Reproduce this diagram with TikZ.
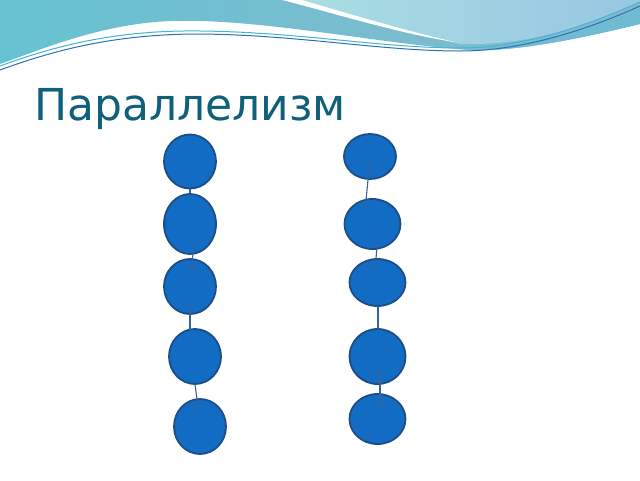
\documentclass[tikz,border=0pt]{standalone}
\usepackage{xcolor}
\usepackage{fontspec}
\setmainfont{DejaVu Sans}
\usetikzlibrary{shapes.geometric}

\definecolor{ballfill}{HTML}{126CC4}
\definecolor{balledge}{HTML}{1D4C86}
\definecolor{stringcol}{HTML}{34649A}
\definecolor{titlecol}{HTML}{10607A}
\definecolor{waveleft}{HTML}{66C2D1}
\definecolor{wavemid}{HTML}{86B8CD}
\definecolor{lightleft}{HTML}{A9DEE2}
\definecolor{lightright}{HTML}{98C6E3}
\definecolor{bandcol}{HTML}{6FBBD2}
\definecolor{linecyan}{HTML}{3FB8CF}
\definecolor{lineblue}{HTML}{2F6FB8}

\tikzset{
  ball/.style={ellipse, draw=balledge, fill=ballfill, line width=1.8pt, inner sep=0pt},
  string/.style={stringcol, line width=1.1pt}
}

\begin{document}
\begin{tikzpicture}[x=1pt, y=-1pt]
 \useasboundingbox (0,0) rectangle (640,480);
 \fill[white] (0,0) rectangle (640,480);

 \shade[left color=waveleft, right color=wavemid] (0,0) -- (640,0) -- (640,24)
   .. controls (590,36) and (520,52) .. (470,50)
   .. controls (380,44) and (260,18) .. (170,21)
   .. controls (100,24) and (40,50) .. (0,64) -- cycle;
 \shade[left color=lightleft, right color=lightright] (300,0) -- (640,0) -- (640,2)
   .. controls (580,30) and (520,46) .. (460,44)
   .. controls (400,30) and (340,10) .. (300,0) -- cycle;
 \fill[white] (282,0) -- (302,0) .. controls (350,14) and (410,32) .. (455,42)
   .. controls (400,34) and (330,12) .. (282,0) -- cycle;
 \fill[bandcol] (460,50) .. controls (530,48) and (600,25) .. (640,8) -- (640,24)
   .. controls (590,36) and (520,52) .. (470,50) -- cycle;
 \draw[linecyan, line width=1pt] (0,66) .. controls (60,44) and (120,30) .. (200,31)
   .. controls (300,32) and (380,48) .. (460,48) .. controls (530,48) and (600,20) .. (640,2);
 \draw[lineblue, line width=1pt] (0,70) .. controls (60,48) and (120,34) .. (200,34)
   .. controls (300,35) and (380,51) .. (460,51) .. controls (530,51) and (600,24) .. (640,6);

 \node[titlecol, anchor=base west, font=\fontsize{44}{50}\selectfont, inner sep=0pt] (title) at (34,120) {Параллелизм};

 \node[ball, minimum width=52pt, minimum height=54pt] (l1) at (190,161.5) {};
 \node[ball, minimum width=52pt, minimum height=60pt] (l2) at (190,224) {};
 \node[ball, minimum width=52pt, minimum height=55pt] (l3) at (190,286.5) {};
 \node[ball, minimum width=52pt, minimum height=55pt] (l4) at (195,356.5) {};
 \node[ball, minimum width=52pt, minimum height=55pt] (l5) at (200,426.5) {};

 \node[ball, minimum width=52pt, minimum height=45pt] (r1) at (370,156.5) {};
 \node[ball, minimum width=56pt, minimum height=50pt] (r2) at (372.5,224) {};
 \node[ball, minimum width=56pt, minimum height=47pt] (r3) at (377.5,282.5) {};
 \node[ball, minimum width=56pt, minimum height=55pt] (r4) at (377.5,356.5) {};
 \node[ball, minimum width=56pt, minimum height=50pt] (r5) at (377.5,419) {};

 \coordinate (l2a) at (195,240);
 \coordinate (l3a) at (190,275);
 \coordinate (l2b) at (193,262);
 \coordinate (l3b) at (197,275);
 \coordinate (l3c) at (190,305);
 \coordinate (l4a) at (190,330);
 \coordinate (l4b) at (195,384);
 \coordinate (l5a) at (199,415);

 \coordinate (r1a) at (370,160);
 \coordinate (r2a) at (365,210);
 \coordinate (r2b) at (378,235);
 \coordinate (r3a) at (375,270);
 \coordinate (r3b) at (378,306);
 \coordinate (r4a) at (378,329);
 \coordinate (r4b) at (380,369);
 \coordinate (r5a) at (380,409);

 \draw[string] (l1.south) -- (l2.north);
 \draw[string] (l2a) -- (l3a);
 \draw[string] (l2b) -- (l3b);
 \draw[string] (l3c) -- (l4a);
 \draw[string] (l4b) -- (l5a);

 \draw[string] (r1a) -- (r2a);
 \draw[string] (r2b) -- (r3a);
 \draw[string] (r3b) -- (r4a);
 \draw[string] (r4b) -- (r5a);

\end{tikzpicture}
\end{document}
